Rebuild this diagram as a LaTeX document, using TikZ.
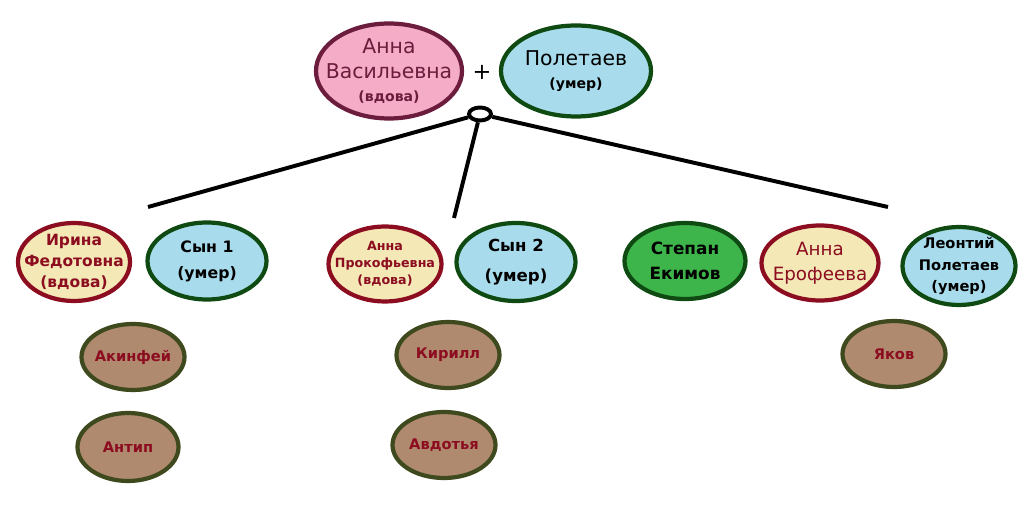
\documentclass[tikz,border=0pt]{standalone}
\usepackage{fontspec}
\setmainfont{DejaVu Sans}
\usepackage{xcolor}
\definecolor{pinkfill}{HTML}{F5ACC6}
\definecolor{pinkline}{HTML}{6C1C3C}
\definecolor{bluefill}{HTML}{A8DCEC}
\definecolor{greenline}{HTML}{0E4A12}
\definecolor{creamfill}{HTML}{F3E8B6}
\definecolor{redline}{HTML}{8C0C20}
\definecolor{greenfill}{HTML}{3DB54B}
\definecolor{brownfill}{HTML}{B08A6E}
\definecolor{brownline}{HTML}{3E4A1E}
\usetikzlibrary{shapes.geometric}
\newcommand{\fs}[2]{\fontsize{#1}{#2}\selectfont}

\begin{document}
\begin{tikzpicture}[x=0.025cm,y=-0.025cm,
  person/.style={ellipse, inner xsep=-16pt, inner ysep=-12pt, line width=3pt, align=center},
  sz/.style 2 args={minimum width=#1*0.025cm, minimum height=#2*0.025cm},
  widow/.style={person, draw=redline, fill=creamfill, text=redline},
  dead/.style={person, draw=greenline, fill=bluefill, text=black},
  child/.style={person, draw=brownline, fill=brownfill, text=redline, sz={103}{66}, font=\bfseries\fs{10.4}{13}},
  link/.style={line width=2.8pt}]
  \useasboundingbox (0,0) rectangle (1026,510);

  % Parents
  \node[person, draw=pinkline, fill=pinkfill, text=pinkline, sz={146}{95}, font=\fs{14.5}{18}]
    (anna) at (389,71) {Анна\\Васильевна\\[-2pt]{\bfseries\fs{10}{12}(вдова)}};
  \node[dead, sz={150}{91}, font=\fs{14.5}{16}]
    (poletaev) at (576,71) {Полетаев\\{\bfseries\fs{10}{12}(умер)}};
  \node[font=\fs{16}{18}] (plus) at (482,72) {+};

  % Junction and lines
  \node[ellipse, draw, fill=white, line width=2.8pt, inner sep=0pt, sz={22}{13}] (jn) at (480,114) {};
  \coordinate (endL) at (148,207);
  \coordinate (endM) at (454,218);
  \coordinate (endR) at (888,207);
  \foreach \e in {endL,endM,endR}
    \draw[link] (jn) -- (\e);

  % Second generation
  \node[widow, sz={112}{78}, font=\bfseries\fs{11}{15}]
    (irina) at (74,262) {Ирина\\Федотовна\\(вдова)};
  \node[dead, sz={119}{77}, font=\bfseries\fs{11.2}{18.5}]
    (son1) at (207,261) {Сын 1\\(умер)};
  \node[widow, sz={113}{75}, font=\bfseries\fs{9}{12}]
    (prokof) at (385,264) {Анна\\Прокофьевна\\(вдова)};
  \node[dead, sz={119}{78}, font=\bfseries\fs{11.8}{21}]
    (son2) at (516,262) {Сын 2\\(умер)};
  \node[person, draw=greenline, fill=greenfill, text=black, sz={121}{76}, font=\bfseries\fs{12}{18}]
    (stepan) at (685,261) {Степан\\Екимов};
  \node[widow, sz={117}{75}, font=\fs{13}{18}]
    (erofeeva) at (820,263) {Анна\\Ерофеева};
  \node[dead, sz={113}{78}, font=\bfseries\fs{10.4}{15.6}]
    (leontiy) at (959,266) {Леонтий\\Полетаев\\(умер)};

  % Grandchildren
  \node[child] (akinfey) at (133,357) {Акинфей};
  \node[child, sz={101}{68}] (antip) at (128,447) {Антип};
  \node[child] (kirill) at (448,355) {Кирилл};
  \node[child] (avdotya) at (444,445) {Авдотья};
  \node[child] (yakov) at (894,354) {Яков};
\end{tikzpicture}
\end{document}
